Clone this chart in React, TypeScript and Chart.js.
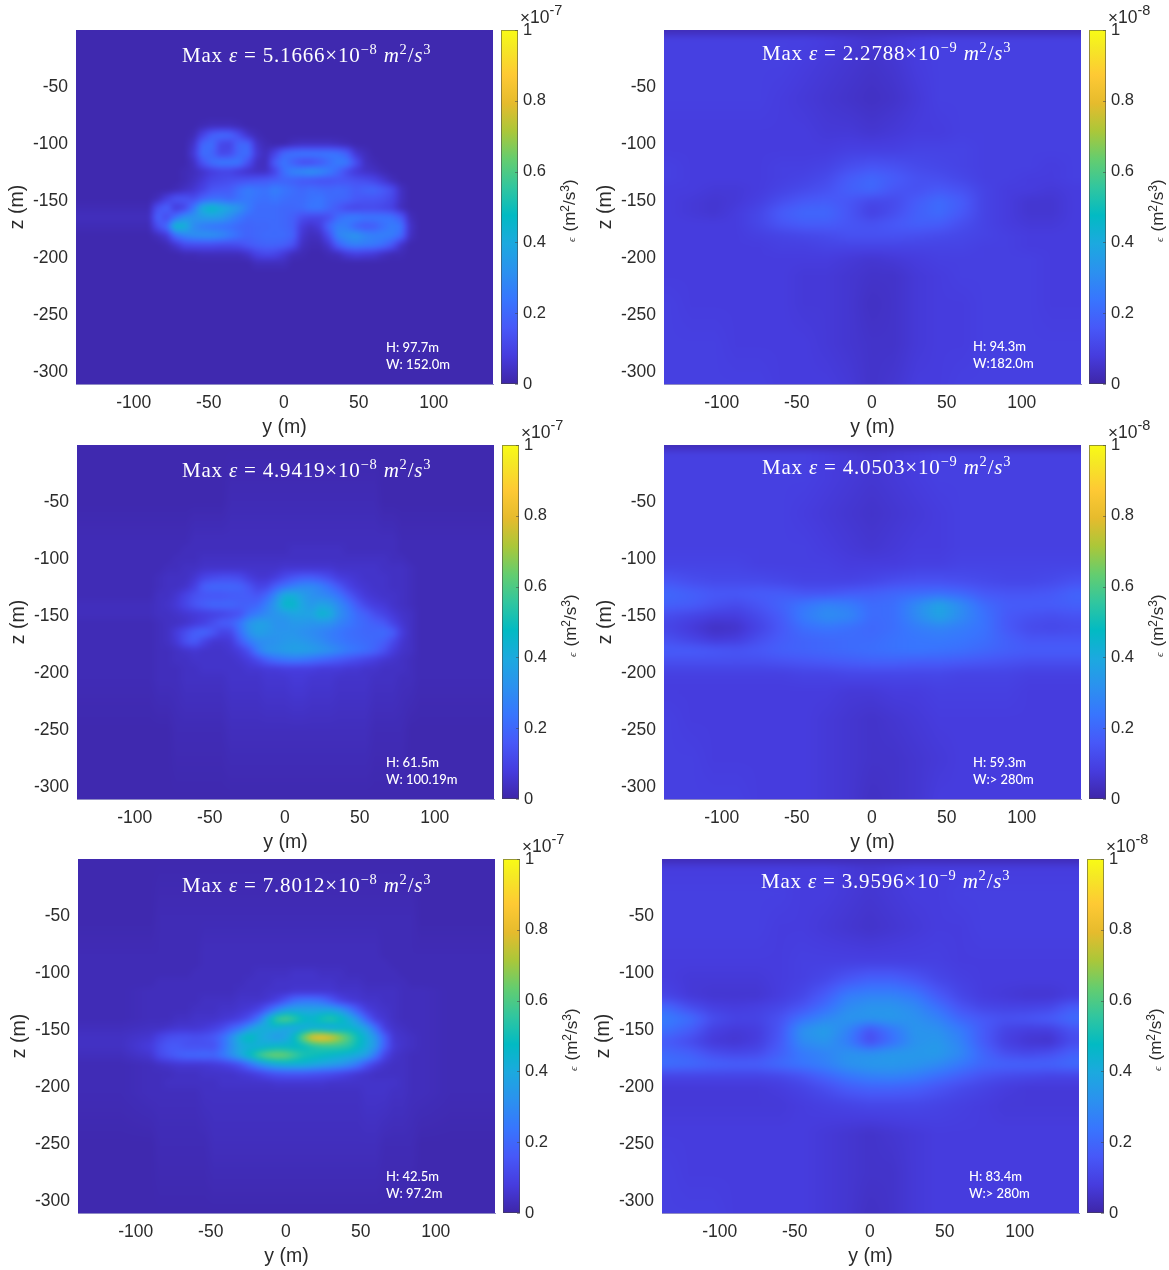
import React, { useEffect, useRef } from "react";
import { Chart, registerables } from "chart.js";

Chart.register(...registerables);

// ---------- axis ticks ----------
const yTickValues = [-100, -50, 0, 50, 100];
const zTickValues = [-50, -100, -150, -200, -250, -300];
const barTickValues = [0, 0.2, 0.4, 0.6, 0.8, 1];

// ---------- text ----------
const maxMantissa = ["5.1666", "2.2788", "4.9419", "4.0503", "7.8012", "3.9596"];
const maxExponent = ["\u22128", "\u22129", "\u22128", "\u22129", "\u22128", "\u22129"];
const heightLabels = ["H: 97.7m", "H: 94.3m", "H: 61.5m", "H: 59.3m", "H: 42.5m", "H: 83.4m"];
const widthLabels = ["W: 152.0m", "W:182.0m", "W: 100.19m", "W:> 280m", "W: 97.2m", "W:> 280m"];
const barExponent = ["-7", "-8", "-7", "-8", "-7", "-8"];

// ---------- parula colour scale, evenly picked ----------
const parulaIndex = [0, 5, 10, 15, 20, 25, 30, 35, 40, 45, 50, 55, 60, 63];
const parulaStops = [
  [62, 38, 168], [70, 60, 222], [71, 88, 248], [56, 117, 254], [43, 145, 239], [28, 169, 223],
  [2, 186, 195], [49, 198, 159], [100, 205, 111], [171, 199, 57], [230, 187, 45], [254, 201, 52],
  [245, 233, 36], [249, 251, 21],
];

// ---------- grid coordinates (metres) ----------
const fineY = [-90, -84, -78, -72, -66, -60, -54, -48, -42, -36, -30, -24, -18, -12, -6, 0, 6, 12, 18, 24, 30, 36, 42, 48, 54, 60, 66, 72, 78, 84, 90];
const fineZ = [-84, -92, -100, -108, -116, -124, -132, -140, -148, -156, -164, -172, -180, -188, -196, -204];
const coarseY = [-135, -120, -105, -90, -75, -60, -45, -30, -15, 0, 15, 30, 45, 60, 75, 90, 105, 120, 135];
const coarseZ = [0, -3, -6, -30, -60, -90, -105, -120, -130, -140, -150, -160, -170, -180, -190, -200, -215, -240, -275, -310];
const panelAY = fineY;
const panelAZ = [-76, ...fineZ, -212];
const panelCY = fineY;
const panelCZ = [0, -50, ...fineZ, -250, -310];
const panelEY = [-110, ...fineY, 110];
const panelEZ = [0, -50, ...fineZ, -250, -310];

// ---------- epsilon, in % of the colour bar ----------
const panelA = [
  [1,1,1,1,1,1,1,1,1,1,1,1,1,1,1,1,1,1,1,1,1,1,1,1,1,1,1,1,1,1,1],
  [1,1,1,1,1,1,2,3,3,3,2,1,1,1,1,1,1,1,1,1,1,1,1,1,1,1,1,1,1,1,1],
  [1,1,1,1,1,2,10,18,21,20,13,5,2,1,1,1,1,1,1,1,1,1,1,1,1,1,1,1,1,1,1],
  [1,1,1,1,1,5,20,22,11,10,20,20,5,2,1,1,3,4,4,4,4,3,2,1,1,1,1,1,1,1,1],
  [1,1,1,1,1,7,22,20,11,12,20,22,7,3,10,20,23,24,24,24,24,23,18,6,3,1,1,1,1,1,1],
  [1,1,1,1,1,4,15,22,25,25,24,14,4,3,17,24,18,13,13,16,21,26,25,14,4,2,1,1,1,1,1],
  [1,1,1,1,2,3,5,8,10,10,7,5,4,4,10,22,28,30,32,30,26,20,12,7,5,4,2,1,1,1,1],
  [1,1,1,1,2,4,7,11,12,13,14,15,16,17,18,19,18,16,15,14,14,15,15,14,13,11,7,3,1,1,1],
  [1,1,1,2,4,6,10,15,16,17,22,26,24,23,27,24,22,20,22,21,20,21,20,17,19,20,17,13,4,1,1],
  [1,3,9,15,15,13,19,22,22,20,23,25,23,22,24,22,21,21,23,24,21,20,19,16,15,15,14,11,4,1,1],
  [2,14,19,7,11,25,42,47,42,38,33,26,21,21,21,20,20,21,24,24,20,16,12,11,12,12,11,9,3,1,1],
  [3,19,12,23,32,33,35,36,35,30,25,21,21,21,21,20,18,13,11,11,13,21,25,26,24,24,24,23,17,3,1],
  [2,13,21,46,43,30,26,24,23,22,20,19,20,20,21,20,18,8,5,8,20,27,26,19,16,17,22,26,24,5,1],
  [1,3,7,22,28,31,32,32,30,26,22,19,20,21,21,21,19,6,3,4,13,28,31,33,29,27,27,26,21,4,1],
  [1,1,2,6,12,13,13,13,12,12,13,16,18,19,19,18,14,4,2,2,6,18,25,27,26,25,22,16,5,1,1],
  [1,1,1,1,2,2,3,3,3,3,3,5,10,12,11,7,3,2,1,1,2,3,7,9,8,7,4,2,2,1,1],
  [1,1,1,1,1,1,1,1,1,1,1,1,3,3,3,3,1,1,1,1,1,1,1,1,1,1,1,1,1,1,1],
  [1,1,1,1,1,1,1,1,1,1,1,1,1,1,1,1,1,1,1,1,1,1,1,1,1,1,1,1,1,1,1],
];

const panelC = [
  [1,1,1,1,1,1,1,1,1,1,1,1,1,1,1,1,1,1,1,1,1,1,1,1,1,1,1,1,1,1,1],
  [1,1,1,1,1,1,1,1,1,2,2,2,2,2,2,2,2,2,2,2,2,2,2,2,2,2,1,1,1,1,1],
  [2,2,2,2,2,3,3,3,3,3,3,3,3,3,3,3,3,3,3,3,3,3,3,3,3,3,3,3,2,2,2],
  [2,2,2,2,3,3,3,3,3,3,3,3,3,3,3,3,4,4,4,4,4,4,3,3,3,3,3,3,2,2,2],
  [2,2,2,3,3,3,4,4,4,4,4,4,4,4,4,4,4,4,4,4,4,4,4,4,4,4,4,3,3,2,2],
  [2,2,3,3,4,4,5,5,5,5,5,5,5,5,5,6,6,6,6,6,6,5,5,5,5,5,4,4,4,3,2],
  [2,3,4,4,4,6,10,12,13,13,12,8,6,6,8,12,15,17,17,15,12,8,7,6,5,5,5,4,4,3,2],
  [2,3,4,4,5,9,18,20,20,20,19,15,10,11,18,23,27,30,30,27,22,16,10,7,6,5,5,4,4,3,2],
  [2,4,4,6,10,14,15,15,15,16,17,17,15,20,30,42,42,36,32,30,28,24,17,11,7,6,5,5,4,3,2],
  [3,4,5,7,11,15,18,20,20,20,18,18,20,27,35,46,46,38,34,38,36,30,24,17,11,8,7,5,4,3,2],
  [3,4,4,5,6,7,8,9,10,12,14,22,26,30,33,35,38,38,38,45,42,32,27,21,18,13,10,7,5,4,2],
  [2,3,4,4,5,7,9,13,17,18,24,33,37,36,32,32,34,34,33,33,32,28,25,22,20,18,16,10,6,4,2],
  [2,3,4,8,13,18,20,16,10,11,22,32,37,35,33,33,33,31,30,28,26,24,22,21,20,20,21,18,8,4,2],
  [2,3,4,7,14,17,10,6,6,7,16,25,30,31,32,34,35,34,32,30,27,25,23,22,21,20,18,12,6,4,2],
  [2,3,3,4,5,6,5,5,5,6,8,14,26,33,34,36,37,37,36,34,32,29,26,24,22,19,14,8,5,4,2],
  [2,3,3,4,4,5,5,5,5,5,6,8,12,18,22,24,25,24,22,20,18,16,14,12,10,8,6,5,4,3,2],
  [2,3,3,3,4,4,5,5,5,5,5,6,6,7,7,8,8,8,8,7,7,7,6,6,5,5,4,4,4,3,2],
  [2,3,3,3,4,4,4,4,4,5,5,5,5,6,6,6,7,7,6,6,6,5,5,5,5,4,4,4,3,3,2],
  [1,1,1,2,2,2,2,2,2,3,3,3,3,3,3,3,3,3,3,3,3,3,3,3,3,2,2,2,2,1,1],
  [1,1,1,1,1,1,1,1,1,1,1,1,1,1,1,1,1,1,1,1,1,1,1,1,1,1,1,1,1,1,1],
];

const panelE = [
  [1,1,1,1,1,1,1,1,1,1,1,1,1,1,1,1,1,1,1,1,1,1,1,1,1,1,1,1,1,1,1,1,1],
  [1,1,2,2,2,2,2,2,2,2,2,2,2,2,2,2,2,2,2,2,2,2,2,2,2,2,2,2,2,2,2,1,1],
  [2,2,2,2,2,2,2,3,3,3,3,3,3,3,3,3,3,3,3,3,3,3,3,3,3,3,3,2,2,2,2,2,2],
  [2,2,2,2,2,2,2,3,3,3,3,3,3,3,3,3,3,3,3,3,3,3,3,3,3,3,3,3,2,2,2,2,2],
  [2,2,2,2,2,2,3,3,3,3,3,3,3,4,4,4,4,5,5,5,4,4,4,3,3,3,3,3,3,2,2,2,2],
  [2,2,3,3,3,3,3,3,3,3,3,3,4,4,4,5,5,5,5,5,5,5,4,4,4,3,3,3,3,3,2,2,2],
  [2,3,3,3,3,3,3,3,3,3,3,4,4,4,5,5,5,6,6,6,6,6,5,5,5,4,4,4,4,3,3,3,2],
  [2,3,3,3,3,3,3,4,4,4,4,5,5,5,6,9,15,22,24,24,22,16,10,7,6,5,5,4,4,3,3,3,2],
  [2,3,3,3,3,3,4,4,4,5,5,6,7,10,18,28,36,38,38,38,38,38,34,26,16,8,6,5,4,3,3,3,2],
  [2,3,3,3,4,4,5,5,5,6,7,9,14,24,42,58,62,56,48,46,52,55,50,42,32,18,8,6,4,3,3,3,2],
  [3,4,4,5,6,6,6,7,9,12,18,24,34,42,42,42,38,38,40,42,40,38,42,45,42,36,22,8,5,4,3,3,2],
  [4,6,10,13,14,14,13,14,16,22,32,44,50,42,38,34,38,48,66,82,85,80,70,60,50,42,33,18,6,5,4,3,2],
  [4,8,13,16,16,14,14,14,14,22,32,40,42,42,44,46,46,46,48,52,55,56,56,54,48,42,34,18,7,5,4,3,2],
  [3,6,12,15,18,20,20,21,20,25,32,40,48,58,64,66,64,58,52,50,48,46,44,42,40,36,24,10,5,4,3,3,2],
  [2,3,4,5,6,6,6,6,7,8,10,14,22,30,36,40,42,42,42,40,38,36,34,30,24,14,8,5,4,4,3,3,2],
  [2,3,3,3,4,4,4,5,5,5,5,6,7,9,12,14,15,15,15,14,13,12,10,8,6,5,4,4,4,4,3,3,2],
  [2,3,3,4,4,4,4,4,4,5,5,5,5,5,5,6,6,6,6,6,6,5,5,5,5,5,5,5,5,4,3,3,2],
  [2,3,3,3,3,3,3,4,4,4,4,4,4,4,4,4,4,4,4,4,4,4,4,4,4,5,5,5,4,4,3,3,2],
  [1,1,2,2,2,2,2,2,3,3,3,3,3,3,3,3,3,3,3,3,3,3,3,3,3,3,3,2,2,2,2,1,1],
  [1,1,1,1,1,1,1,1,1,1,1,1,1,1,1,1,1,1,1,1,1,1,1,1,1,1,1,1,1,1,1,1,1],
];

const panelB = [
  [2,2,2,2,2,2,2,2,2,2,2,2,2,2,2,2,2,2,2],
  [3,3,3,3,3,3,3,3,3,3,3,3,3,3,3,3,3,3,3],
  [9,9,9,9,9,9,9,8,7,6,7,8,9,9,9,9,9,9,9],
  [9,9,9,9,9,9,8,7,6,5,6,8,9,9,9,9,9,9,9],
  [9,9,9,9,9,8,7,6,5,4,5,7,9,9,9,9,9,9,9],
  [8,8,8,8,8,8,8,7,7,6,7,8,8,9,9,9,9,9,9],
  [8,8,8,8,8,8,8,8,9,9,9,10,10,10,9,9,9,9,9],
  [9,8,8,8,8,9,9,10,13,15,14,12,11,10,9,9,9,8,9],
  [9,8,8,8,8,9,10,12,17,20,17,14,13,11,9,9,8,8,9],
  [8,8,7,7,8,10,12,14,18,20,15,14,16,14,10,8,8,7,8],
  [8,7,6,7,9,13,16,17,15,11,12,17,21,17,10,8,6,6,8],
  [8,7,6,8,11,17,20,20,15,9,13,18,21,16,10,8,6,6,8],
  [8,8,8,8,11,15,17,17,15,14,16,18,17,13,10,8,7,7,8],
  [8,8,8,8,9,10,11,12,14,14,14,13,12,11,10,9,8,8,8],
  [8,8,8,8,8,9,9,10,10,10,10,10,10,10,9,9,8,8,8],
  [8,8,8,8,8,8,8,8,7,6,7,8,9,9,9,9,9,8,8],
  [8,8,8,8,8,8,7,7,6,5,5,7,8,9,9,9,9,8,8],
  [9,8,8,8,8,8,7,7,6,4,5,7,8,8,9,9,9,8,8],
  [9,9,9,8,8,8,8,7,6,5,5,7,8,8,9,9,9,9,9],
  [9,9,9,9,9,8,8,8,7,5,6,8,8,9,9,9,9,9,9],
];

const panelD = [
  [2,2,2,2,2,2,2,2,2,2,2,2,2,2,2,2,2,2,2],
  [3,3,3,3,3,3,3,3,3,3,3,3,3,3,3,3,3,3,3],
  [9,9,9,9,9,9,9,8,7,6,7,8,9,9,9,9,9,9,9],
  [9,9,9,9,9,9,9,8,7,6,7,8,9,9,9,9,9,9,9],
  [9,9,9,9,9,9,8,7,6,5,6,7,8,9,9,9,9,9,9],
  [9,9,9,9,9,9,9,8,7,6,7,8,8,9,9,9,9,9,9],
  [10,10,10,10,9,9,9,9,8,8,8,9,9,10,10,10,10,10,10],
  [15,13,12,12,12,11,10,10,10,11,13,14,14,13,12,11,11,12,14],
  [20,18,16,16,17,17,15,15,17,18,20,21,22,20,16,15,15,16,19],
  [18,17,14,12,15,19,24,28,26,21,22,30,38,30,21,17,17,17,18],
  [12,10,8,8,12,17,26,31,29,21,22,30,38,30,23,16,14,13,14],
  [10,7,4,5,10,16,22,24,22,20,22,26,28,26,23,16,12,11,12],
  [13,10,7,8,13,17,19,20,21,21,23,24,25,24,22,18,15,15,15],
  [17,17,16,15,16,18,19,20,21,22,23,24,23,22,20,18,17,17,17],
  [13,13,13,13,13,14,15,16,17,18,18,17,17,16,15,14,13,13,13],
  [9,9,9,9,9,9,10,10,11,11,11,11,11,10,10,10,9,9,9],
  [8,8,8,8,8,8,8,8,7,7,8,8,9,9,9,9,8,8,8],
  [9,8,8,8,8,8,8,7,6,5,6,7,8,8,8,8,8,8,8],
  [9,9,8,8,8,8,8,7,6,5,5,6,7,8,8,8,8,8,8],
  [9,9,9,9,8,8,8,7,6,4,5,6,8,8,8,8,8,8,8],
];

const panelF = [
  [2,2,2,2,2,2,2,2,2,2,2,2,2,2,2,2,2,2,2],
  [3,3,3,3,3,3,3,3,3,3,3,3,3,3,3,3,3,3,3],
  [8,8,8,8,8,8,8,8,7,6,7,8,8,8,8,8,8,8,8],
  [9,9,9,9,9,9,8,8,7,6,7,8,8,9,9,9,9,9,9],
  [9,9,9,9,9,8,8,7,6,5,6,7,8,8,9,9,9,9,9],
  [8,8,8,8,8,8,9,9,9,9,9,9,9,8,8,8,8,8,8],
  [8,7,7,7,7,8,9,11,15,18,18,15,11,9,8,8,8,8,8],
  [10,7,6,6,6,8,11,17,26,28,28,25,17,11,8,7,6,6,8],
  [20,13,9,8,9,11,15,22,30,33,33,30,23,15,11,10,10,11,17],
  [26,22,13,10,10,14,23,29,33,33,34,32,28,20,16,14,15,17,21],
  [22,17,9,7,8,15,32,36,28,14,24,33,32,26,17,10,8,8,14],
  [16,12,7,6,8,16,30,33,26,12,22,32,34,28,17,9,6,5,12],
  [20,18,13,11,12,18,25,28,32,32,34,34,35,30,20,13,11,13,18],
  [22,21,19,18,18,21,24,27,32,34,34,33,30,25,20,19,19,19,21],
  [10,10,10,10,10,11,14,19,24,27,28,26,22,18,14,12,11,10,10],
  [7,7,7,7,7,8,10,13,17,19,19,18,15,12,10,8,7,7,7],
  [7,7,7,7,7,7,8,9,10,11,11,11,10,9,8,7,7,7,7],
  [8,8,8,8,8,8,8,7,6,5,6,7,8,8,8,8,8,8,8],
  [9,8,8,8,8,8,8,7,6,5,5,7,8,8,8,8,8,8,8],
  [9,9,9,8,8,8,8,7,6,4,5,7,8,8,8,8,8,8,8],
];

const gridYs = [panelAY, coarseY, panelCY, coarseY, panelEY, coarseY];
const gridZs = [panelAZ, coarseZ, panelCZ, coarseZ, panelEZ, coarseZ];
const gridValues = [panelA, panelB, panelC, panelD, panelE, panelF];

// ---------- layout: plot-area corner and text offsets for each panel ----------
const plotLeft = [76, 664, 77, 664, 78, 662];
const plotTop = [30, 30, 445, 445, 859, 859];
const titleOffset = [[106, 32], [98, 30], [105, 32], [98, 29], [104, 33], [99, 29]];
const noteOffset = [[310, 322], [309, 321], [309, 322], [309, 322], [308, 322], [307, 322]];
const softness = [2, 3.5, 2.5, 3.5, 2.5, 3.5];
const PLOT_W = 417;
const PLOT_H = 354;
const LEFT_BOX = 70;
const TOP_BOX = 28;
const BOTTOM_BOX = 56;
const RIGHT_GAP = 25;
const RIGHT_BOX = 66;
const INK = "#2b2b2b";
const SANS = "'Liberation Sans', Arial, sans-serif";
const SERIF = "'Liberation Serif', 'DejaVu Serif', serif";

function colourAt(percent: number): number[] {
  const t = Math.max(0, Math.min(1, percent / 100)) * 63;
  let k = 0;
  while (k < parulaIndex.length - 2 && parulaIndex[k + 1] < t) k++;
  const f = (t - parulaIndex[k]) / (parulaIndex[k + 1] - parulaIndex[k]);
  const a = parulaStops[k];
  const b = parulaStops[k + 1];
  return [a[0] + (b[0] - a[0]) * f, a[1] + (b[1] - a[1]) * f, a[2] + (b[2] - a[2]) * f];
}

function locate(axis: number[], v: number): [number, number, number] {
  const dir = axis[1] > axis[0] ? 1 : -1;
  if ((v - axis[0]) * dir <= 0) return [0, 0, 0];
  for (let i = 0; i < axis.length - 1; i++) {
    if ((v - axis[i + 1]) * dir <= 0) return [i, i + 1, (v - axis[i]) / (axis[i + 1] - axis[i])];
  }
  return [axis.length - 1, axis.length - 1, 0];
}

type Run = { text: string; font: string; raise?: number };

function drawRuns(ctx: CanvasRenderingContext2D, x: number, y: number, runs: Run[]) {
  let cx = x;
  ctx.textAlign = "left";
  ctx.textBaseline = "alphabetic";
  for (const r of runs) {
    ctx.font = r.font;
    ctx.fillText(r.text, cx, y - (r.raise || 0));
    cx += ctx.measureText(r.text).width;
  }
}

function panelPlugin(index: number) {
  return {
    id: "panel" + index,
    beforeDatasetsDraw(chart: any) {
      const ys = gridYs[index];
      const zs = gridZs[index];
      const vals = gridValues[index];
      const { left, top, width, height } = chart.chartArea;
      const m = 12;
      const w = Math.round(width) + 2 * m;
      const h = Math.round(height) + 2 * m;
      const off = document.createElement("canvas");
      off.width = w;
      off.height = h;
      const octx = off.getContext("2d")!;
      const img = octx.createImageData(w, h);
      const xs = [];
      for (let i = 0; i < w; i++) xs.push(locate(ys, chart.scales.x.getValueForPixel(left - m + i + 0.5)));
      for (let j = 0; j < h; j++) {
        const [r0, r1, rt] = locate(zs, chart.scales.y.getValueForPixel(top - m + j + 0.5));
        for (let i = 0; i < w; i++) {
          const [c0, c1, ct] = xs[i];
          const a = vals[r0][c0] * (1 - ct) + vals[r0][c1] * ct;
          const b = vals[r1][c0] * (1 - ct) + vals[r1][c1] * ct;
          const col = colourAt(a * (1 - rt) + b * rt);
          const p = (j * w + i) * 4;
          img.data[p] = col[0];
          img.data[p + 1] = col[1];
          img.data[p + 2] = col[2];
          img.data[p + 3] = 255;
        }
      }
      octx.putImageData(img, 0, 0);
      const ctx = chart.ctx;
      ctx.save();
      ctx.beginPath();
      ctx.rect(left, top, width, height);
      ctx.clip();
      (ctx as any).filter = `blur(${softness[index]}px)`;
      ctx.drawImage(off, left - m, top - m);
      ctx.restore();
    },
    afterDraw(chart: any) {
      const ctx = chart.ctx;
      const { left, top } = chart.chartArea;
      const cb = chart.scales.cb;
      // colour bar
      const barRight = cb.left;
      const barLeft = barRight - 17;
      const grad = ctx.createLinearGradient(0, cb.getPixelForValue(0), 0, cb.getPixelForValue(1));
      parulaIndex.forEach((k, n) => {
        const c = parulaStops[n];
        grad.addColorStop(k / 63, `rgb(${c[0]},${c[1]},${c[2]})`);
      });
      ctx.save();
      ctx.fillStyle = grad;
      ctx.fillRect(barLeft, cb.top, 17, cb.bottom - cb.top);
      ctx.strokeStyle = "rgba(70,70,70,0.55)";
      ctx.lineWidth = 1;
      ctx.strokeRect(barLeft + 0.5, cb.top + 0.5, 16, cb.bottom - cb.top - 1);
      for (const t of barTickValues) {
        const py = Math.round(cb.getPixelForValue(t)) + 0.5;
        ctx.beginPath();
        ctx.moveTo(barRight - 3, py);
        ctx.lineTo(barRight, py);
        ctx.stroke();
      }
      // exponent above the bar
      ctx.fillStyle = INK;
      drawRuns(ctx, barRight + 2, top - 7, [
        { text: "\u00d7", font: `17px ${SANS}` },
        { text: "10", font: `17.5px ${SANS}`, raise: 0 },
        { text: barExponent[index], font: `14.5px ${SANS}`, raise: 8 },
      ]);
      // bar title, bottom to top
      ctx.translate(barRight + 57, cb.getPixelForValue(0.5) + 2);
      ctx.rotate(-Math.PI / 2);
      ctx.fillStyle = INK;
      const t1 = `italic 11px ${SERIF}`;
      const t2 = `17px ${SANS}`;
      const t3 = `12px ${SANS}`;
      drawRuns(ctx, -33, 0, [
        { text: "\u03f5", font: t1 },
        { text: "  ", font: `11px ${SANS}` },
        { text: "(m", font: t2 },
        { text: "2", font: t3, raise: 6 },
        { text: "/s", font: t2 },
        { text: "3", font: t3, raise: 6 },
        { text: ")", font: t2 },
      ]);
      ctx.restore();
      // white notes on the plot
      ctx.save();
      ctx.fillStyle = "#fff";
      (ctx as any).letterSpacing = "0.8px";
      const base = `21px ${SERIF}`;
      const ital = `italic 21px ${SERIF}`;
      const sup = `14.5px ${SERIF}`;
      drawRuns(ctx, left + titleOffset[index][0], top + titleOffset[index][1], [
        { text: "Max ", font: base },
        { text: "\u03b5", font: ital },
        { text: ` = ${maxMantissa[index]}\u00d710`, font: base },
        { text: maxExponent[index], font: sup, raise: 8 },
        { text: " ", font: base },
        { text: "m", font: ital },
        { text: "2", font: sup, raise: 8 },
        { text: "/", font: base },
        { text: "s", font: ital },
        { text: "3", font: sup, raise: 8 },
      ]);
      (ctx as any).letterSpacing = "0px";
      ctx.font = `500 13px Lato, sans-serif`;
      ctx.textAlign = "left";
      ctx.textBaseline = "alphabetic";
      ctx.fillText(heightLabels[index], left + noteOffset[index][0], top + noteOffset[index][1]);
      ctx.fillText(widthLabels[index], left + noteOffset[index][0], top + noteOffset[index][1] + 17);
      ctx.restore();
    },
  };
}

function HeatPanel({ index }: { index: number }) {
  const ref = useRef<HTMLCanvasElement>(null);
  useEffect(() => {
    const ys = gridYs[index];
    const zs = gridZs[index];
    const vals = gridValues[index];
    const points: { x: number; y: number; v: number }[] = [];
    zs.forEach((z, r) => ys.forEach((y, c) => points.push({ x: y, y: z, v: vals[r][c] })));
    const tickFont = { family: SANS, size: 17.5 };
    const chart = new Chart(ref.current!, {
      type: "scatter",
      data: { datasets: [{ label: "epsilon", data: points, pointRadius: 0, showLine: false }] },
      plugins: [panelPlugin(index)],
      options: {
        animation: false,
        responsive: false,
        devicePixelRatio: 1,
        layout: { padding: { top: TOP_BOX, left: 0, right: 0, bottom: 0 } },
        plugins: { legend: { display: false }, tooltip: { enabled: false } },
        scales: {
          x: {
            type: "linear",
            min: -138.5,
            max: 139.5,
            grid: { display: false, drawTicks: false },
            border: { display: true, color: "#8f8bc4", width: 1 },
            ticks: { color: INK, font: tickFont, padding: 9, maxRotation: 0, autoSkip: false },
            afterBuildTicks: (s: any) => { s.ticks = yTickValues.map((value) => ({ value })); },
            afterFit: (s: any) => { s.height = BOTTOM_BOX; },
            title: { display: true, text: "y (m)", color: INK, font: { family: SANS, size: 19.5 }, padding: { top: 0, bottom: 1 } },
          },
          y: {
            type: "linear",
            min: -310,
            max: 0,
            grid: { display: false, drawTicks: false },
            border: { display: true, color: "#8f8bc4", width: 1 },
            ticks: { color: INK, font: tickFont, padding: 8, autoSkip: false },
            afterBuildTicks: (s: any) => { s.ticks = zTickValues.map((value) => ({ value })); },
            afterFit: (s: any) => { s.width = LEFT_BOX; },
            title: { display: true, text: "z (m)", color: INK, font: { family: SANS, size: 19.5 }, padding: { top: 0, bottom: 0 } },
          },
          gap: {
            type: "linear",
            axis: "y",
            position: "right",
            weight: 0,
            min: 0,
            max: 1,
            grid: { display: false, drawTicks: false },
            border: { display: false },
            ticks: { display: false },
            afterFit: (s: any) => { s.width = RIGHT_GAP; },
          },
          cb: {
            type: "linear",
            axis: "y",
            position: "right",
            weight: 1,
            min: 0,
            max: 1,
            grid: { display: false, drawTicks: false },
            border: { display: false },
            ticks: {
              color: INK,
              font: { family: SANS, size: 16.5 },
              padding: 5,
              autoSkip: false,
              callback: (v: any) => String(Number(v)),
            },
            afterBuildTicks: (s: any) => { s.ticks = barTickValues.map((value) => ({ value })); },
            afterFit: (s: any) => { s.width = RIGHT_BOX; },
          },
        },
      } as any,
    });
    return () => chart.destroy();
  }, [index]);
  return (
    <canvas
      ref={ref}
      width={LEFT_BOX + PLOT_W + RIGHT_GAP + RIGHT_BOX}
      height={TOP_BOX + PLOT_H + BOTTOM_BOX}
      style={{ position: "absolute", left: plotLeft[index] - LEFT_BOX, top: plotTop[index] - TOP_BOX }}
    />
  );
}

export default function App() {
  return (
    <div style={{ position: "absolute", left: 0, top: 0, width: 1169, height: 1270, background: "#fff", overflow: "hidden" }}>
      {maxMantissa.map((_, i) => (
        <HeatPanel key={i} index={i} />
      ))}
    </div>
  );
}
